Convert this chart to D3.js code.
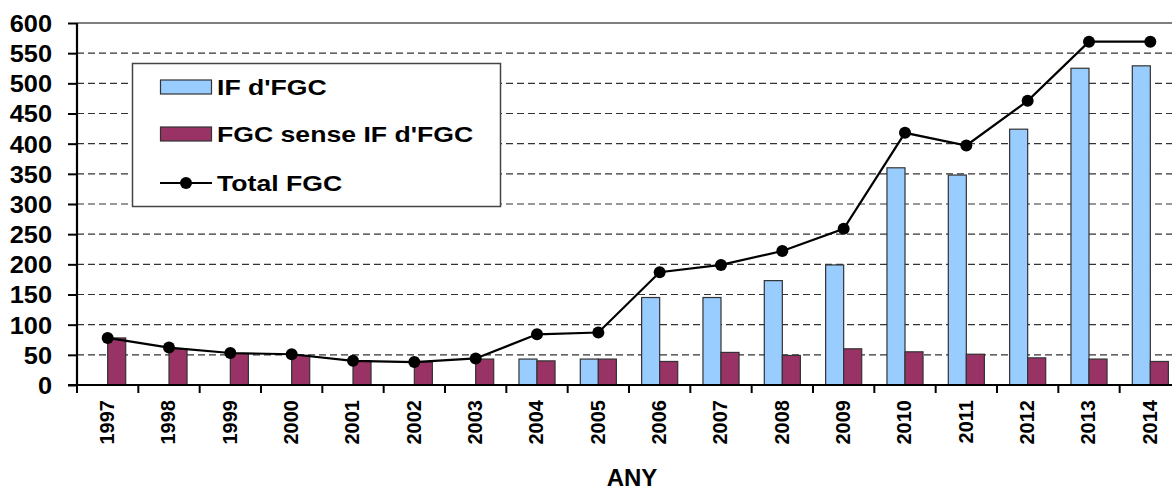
<!DOCTYPE html>
<html>
<head>
<meta charset="utf-8">
<script src="https://cdn.jsdelivr.net/npm/d3@7"></script>
<style>
  body { margin: 0; background: #fff; }
  svg { display: block; font-family: Arial, "Liberation Sans", sans-serif; }
</style>
</head>
<body>
<div id="chart"></div>
<script>
const years = ["1997", "1998", "1999", "2000", "2001", "2002", "2003", "2004", "2005",
  "2006", "2007", "2008", "2009", "2010", "2011", "2012", "2013", "2014"];
// IF d'FGC (blue bars), 0 where there is no bar
const ifFgc = [0, 0, 0, 0, 0, 0, 0, 43, 43, 145, 145, 173, 199, 360, 348, 424, 525, 529];
// FGC sense IF d'FGC (maroon bars)
const senseIf = [78, 60, 52, 49, 40, 38, 43, 40, 43, 39, 54, 49, 60, 55, 51, 45, 43, 39];
// Total FGC (line)
const totalFgc = [78, 62, 53, 51, 40, 38, 44, 84, 87, 187, 199, 222, 259, 418, 397, 471, 569, 569];
const yTicks = [0, 50, 100, 150, 200, 250, 300, 350, 400, 450, 500, 550, 600];
const seriesNames = ["IF d'FGC", "FGC sense IF d'FGC", "Total FGC"];

const width = 1172, height = 490;
const plotLeft = 77, plotTop = 23, plotBottom = 385, plotRight = 1181;

const svg = d3.select("#chart").append("svg")
  .attr("width", width)
  .attr("height", height);

const x = d3.scaleBand().domain(years).range([plotLeft, plotRight]).padding(0);
const xs = d3.scaleBand().domain(["if", "sense"]).range([0, x.bandwidth()])
  .paddingInner(0).paddingOuter(0.7);
const y = d3.scaleLinear().domain([0, 600]).range([plotBottom, plotTop]);

// gridlines
svg.append("g")
  .selectAll("line")
  .data(yTicks.filter((d) => d > 0 && d < 600))
  .join("line")
  .attr("x1", plotLeft).attr("x2", width)
  .attr("y1", (d) => y(d)).attr("y2", (d) => y(d))
  .attr("stroke", "#333")
  .attr("stroke-width", 1.2)
  .attr("stroke-dasharray", "7,4");

// top border of plot area
svg.append("line")
  .attr("x1", plotLeft).attr("x2", width)
  .attr("y1", y(600)).attr("y2", y(600))
  .attr("stroke", "#555").attr("stroke-width", 1.5);

// bars
const rows = years.map((yr, i) => ({ year: yr, if: ifFgc[i], sense: senseIf[i], total: totalFgc[i] }));
const colors = { if: "#99ccff", sense: "#993366" };

svg.append("g")
  .selectAll("g")
  .data(rows)
  .join("g")
  .attr("transform", (d) => `translate(${x(d.year)},0)`)
  .selectAll("rect")
  .data((d) => ["if", "sense"].filter((k) => d[k] > 0).map((k) => ({ key: k, value: d[k] })))
  .join("rect")
  .attr("x", (d) => xs(d.key))
  .attr("width", xs.bandwidth())
  .attr("y", (d) => y(d.value))
  .attr("height", (d) => y(0) - y(d.value))
  .attr("fill", (d) => colors[d.key])
  .attr("stroke", "#333")
  .attr("stroke-width", 1.2);

// total line
const line = d3.line()
  .x((d) => x(d.year) + x.bandwidth() / 2)
  .y((d) => y(d.total));

svg.append("path")
  .datum(rows)
  .attr("fill", "none")
  .attr("stroke", "#000")
  .attr("stroke-width", 2.2)
  .attr("d", line);

svg.append("g")
  .selectAll("circle")
  .data(rows)
  .join("circle")
  .attr("cx", (d) => x(d.year) + x.bandwidth() / 2)
  .attr("cy", (d) => y(d.total))
  .attr("r", 6)
  .attr("fill", "#000");

// y axis
const yAxis = svg.append("g")
  .attr("transform", `translate(${plotLeft},0)`)
  .call(d3.axisLeft(y).tickValues(yTicks).tickSize(9).tickPadding(16));
yAxis.select(".domain").attr("stroke", "#000").attr("stroke-width", 2.2)
  .attr("d", `M0,${plotTop}V${plotBottom}`);
yAxis.selectAll(".tick line").attr("stroke", "#000").attr("stroke-width", 2);
yAxis.selectAll("text")
  .attr("x", -25 / 1.08)
  .attr("transform", "scale(1.08,1)")
  .attr("font-size", 23.5)
  .attr("font-weight", "bold")
  .attr("font-family", "Arial, 'Liberation Sans', sans-serif")
  .attr("fill", "#000")
  .attr("dy", "0.36em");

// x axis
const xAxis = svg.append("g")
  .attr("transform", `translate(0,${plotBottom})`)
  .call(d3.axisBottom(x).tickSize(0));
xAxis.select(".domain").remove();
xAxis.append("line")
  .attr("x1", plotLeft - 9).attr("x2", width)
  .attr("stroke", "#000").attr("stroke-width", 2.2);
xAxis.append("g")
  .selectAll("line")
  .data(years)
  .join("line")
  .attr("x1", (d) => x(d)).attr("x2", (d) => x(d))
  .attr("y1", 0).attr("y2", 8)
  .attr("stroke", "#000").attr("stroke-width", 2);
xAxis.selectAll(".tick text")
  .attr("transform", "rotate(-90)")
  .attr("x", -15)
  .attr("y", -1)
  .attr("dy", "0.36em")
  .attr("text-anchor", "end")
  .attr("font-size", 20)
  .attr("font-weight", "bold")
  .attr("font-family", "Arial, 'Liberation Sans', sans-serif")
  .attr("fill", "#000");

// x title
svg.append("text")
  .attr("x", 632)
  .attr("y", 486)
  .attr("text-anchor", "middle")
  .attr("font-size", 24)
  .attr("font-weight", "bold")
  .text("ANY");

// legend
const legend = svg.append("g");
legend.append("rect")
  .attr("x", 132.5).attr("y", 63.5)
  .attr("width", 368).attr("height", 143)
  .attr("fill", "#fff")
  .attr("stroke", "#444")
  .attr("stroke-width", 1.5);

const legendRows = [
  { name: seriesNames[0], type: "bar", color: colors.if, cy: 87 },
  { name: seriesNames[1], type: "bar", color: colors.sense, cy: 134 },
  { name: seriesNames[2], type: "line", cy: 183 }
];
legendRows.forEach((r) => {
  if (r.type === "bar") {
    legend.append("rect")
      .attr("x", 160.5).attr("y", r.cy - 7)
      .attr("width", 51).attr("height", 14)
      .attr("fill", r.color)
      .attr("stroke", "#333")
      .attr("stroke-width", 1.2);
  } else {
    legend.append("line")
      .attr("x1", 160).attr("x2", 212)
      .attr("y1", r.cy).attr("y2", r.cy)
      .attr("stroke", "#000").attr("stroke-width", 2.2);
    legend.append("circle")
      .attr("cx", 186).attr("cy", r.cy).attr("r", 6).attr("fill", "#000");
  }
  legend.append("text")
    .attr("transform", `translate(217,${r.cy + 8}) scale(1.21,1)`)
    .attr("font-size", 22)
    .attr("font-weight", "bold")
    .text(r.name);
});
</script>
</body>
</html>
